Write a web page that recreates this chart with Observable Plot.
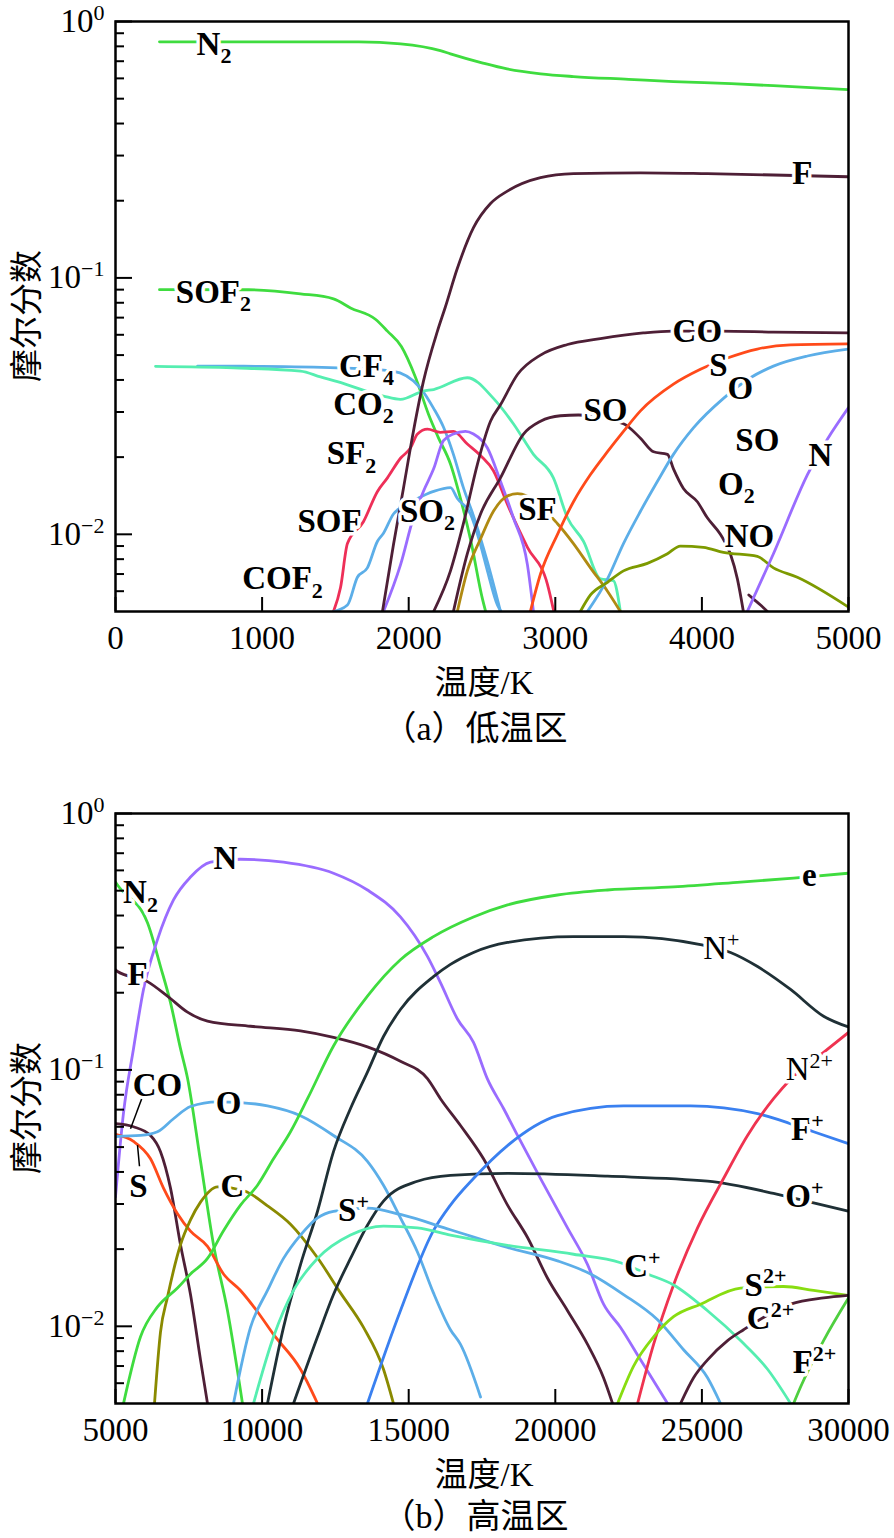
<!DOCTYPE html>
<html><head><meta charset="utf-8">
<script src="https://cdn.jsdelivr.net/npm/d3@7"></script>
<script src="https://cdn.jsdelivr.net/npm/@observablehq/plot@0.6"></script>
<style>
body{margin:0;background:#fff;}
#root{position:relative;width:894px;height:1538px;background:#fff;font-family:"Liberation Serif","DejaVu Serif","Noto Sans CJK SC",serif;color:#000;overflow:hidden;}
.abs{position:absolute;white-space:nowrap;transform:translate(-50%,-50%);line-height:1;}
.ytitle{font-family:"Noto Sans CJK SC",sans-serif;font-size:33px;writing-mode:vertical-rl;text-orientation:sideways;transform:translate(-50%,-50%) rotate(180deg);}
.xtitle{font-size:33px;}
.cap{font-size:34px;}
</style></head><body><div id="root"></div>
<script>
// ---------- Panel (a) 低温区: [温度 K, 摩尔分数] ----------
const a_N2   = [[300,0.833],[1000,0.833],[1660,0.833],[1945,0.818],[2216,0.77],[2285,0.748],[2500,0.69],[2671,0.653],[2900,0.625],[3124,0.61],[3500,0.595],[3806,0.583],[4200,0.572],[4488,0.562],[5000,0.542]];
const a_SOF2 = [[300,0.090],[907,0.0899],[1262,0.0867],[1487,0.0829],[1603,0.0764],[1773,0.069],[1855,0.062],[1950,0.054],[2046,0.041],[2135,0.0294],[2200,0.024],[2285,0.0188],[2353,0.0138],[2421,0.0096],[2503,0.0056],[2525,0.005]];
const a_CF4  = [[560,0.0453],[1000,0.0452],[1514,0.0446],[1889,0.0433],[2080,0.0372],[2170,0.031],[2237,0.0262],[2305,0.0205],[2373,0.0152],[2442,0.0118],[2537,0.0078],[2626,0.005]];
const a_CO2  = [[273,0.0452],[805,0.0446],[1262,0.0433],[1398,0.0411],[1514,0.0394],[1828,0.0346],[1944,0.0336],[2100,0.0362],[2170,0.0367],[2400,0.0408],[2578,0.0339],[2714,0.027],[2851,0.0205],[2987,0.0166],[3083,0.0116],[3192,0.0094],[3308,0.0067],[3396,0.0066],[3444,0.005]];
const a_SF2  = [[1487,0.005],[1535,0.0062],[1582,0.0092],[1691,0.0112],[1787,0.0147],[1855,0.0166],[1944,0.0198],[2012,0.0217],[2060,0.0246],[2128,0.0257],[2216,0.025],[2305,0.0252],[2400,0.0225],[2490,0.0203],[2578,0.0177],[2673,0.0131],[2810,0.0089],[2946,0.0064],[2990,0.005]];
const a_SO2  = [[1487,0.005],[1582,0.0053],[1650,0.0068],[1718,0.0074],[1787,0.0094],[1828,0.0101],[1896,0.012],[1944,0.0127],[2060,0.0138],[2170,0.0147],[2285,0.0152],[2332,0.0138],[2421,0.012],[2490,0.0091],[2537,0.0072],[2605,0.0053],[2630,0.005]];
const a_SOF4 = [[1828,0.005],[1944,0.0076],[2032,0.0116],[2100,0.0147],[2170,0.018],[2237,0.0232],[2305,0.0246],[2387,0.0252],[2442,0.0246],[2537,0.0217],[2626,0.0161],[2714,0.0116],[2810,0.0076],[2851,0.005]];
const a_F    = [[1821,0.005],[1896,0.0091],[1964,0.0151],[2032,0.0252],[2100,0.0394],[2196,0.062],[2250,0.077],[2332,0.109],[2442,0.157],[2558,0.195],[2673,0.218],[2899,0.246],[3124,0.255],[3581,0.257],[4037,0.255],[4488,0.252],[5000,0.248]];
const a_CO   = [[2170,0.005],[2285,0.0072],[2373,0.011],[2469,0.0188],[2558,0.0276],[2626,0.032],[2742,0.042],[2899,0.050],[3083,0.055],[3308,0.058],[3600,0.061],[3800,0.062],[4126,0.062],[4488,0.0615],[5000,0.061]];
const a_SO   = [[2305,0.005],[2400,0.0084],[2490,0.012],[2626,0.0166],[2783,0.0246],[2899,0.0276],[3035,0.029],[3158,0.0292],[3465,0.027],[3581,0.0237],[3670,0.021],[3765,0.0205],[3806,0.018],[3874,0.0151],[3969,0.0134],[4037,0.0116],[4126,0.010],[4194,0.0084],[4242,0.0067],[4283,0.005]];
const a_O2   = [[4320,0.0058],[4351,0.0056],[4400,0.0053],[4447,0.005]];
const a_SF   = [[2332,0.005],[2400,0.0072],[2490,0.0096],[2578,0.0123],[2673,0.0141],[2742,0.0144],[3015,0.011],[3124,0.0092],[3240,0.0074],[3356,0.006],[3444,0.005]];
const a_S    = [[2830,0.005],[2899,0.007],[3015,0.010],[3124,0.0134],[3240,0.0171],[3356,0.021],[3465,0.0252],[3581,0.0303],[3806,0.0385],[3990,0.044],[4174,0.0487],[4378,0.0528],[4604,0.0548],[5000,0.0553]];
const a_O    = [[3219,0.005],[3356,0.0067],[3465,0.0092],[3581,0.0123],[3697,0.0161],[3806,0.0205],[3942,0.026],[4147,0.0339],[4331,0.0408],[4488,0.0453],[4720,0.0496],[5000,0.0528]];
const a_NO   = [[3171,0.005],[3240,0.0058],[3356,0.0065],[3465,0.0072],[3628,0.0077],[3765,0.0084],[3853,0.009],[4010,0.0089],[4147,0.0085],[4378,0.0082],[4488,0.0074],[4651,0.0068],[5000,0.0052]];
const a_N    = [[4310,0.005],[4488,0.0084],[4720,0.0171],[5000,0.0312]];

// ---------- Panel (b) 高温区 ----------
const b_N2  = [[5000,0.54],[5068,0.526],[6091,0.375],[6535,0.253],[6876,0.183],[7217,0.121],[7455,0.093],[7899,0.0441],[8343,0.0208],[8820,0.0115],[9331,0.005]];
const b_N   = [[5000,0.032],[5273,0.068],[5614,0.121],[5955,0.206],[6432,0.322],[6978,0.46],[7558,0.565],[8240,0.646],[9263,0.663],[10730,0.646],[12435,0.585],[13593,0.503],[14718,0.395],[15639,0.277],[16083,0.219],[16662,0.158],[17210,0.128],[17688,0.092],[18235,0.0707],[18712,0.0555],[19497,0.0377],[20416,0.0242],[21100,0.0174],[21646,0.0122],[22226,0.0099],[22908,0.0074],[23829,0.005]];
const b_F   = [[5000,0.246],[5068,0.242],[6091,0.221],[6773,0.194],[7455,0.168],[8138,0.155],[9604,0.148],[11310,0.142],[12435,0.134],[13593,0.123],[14718,0.108],[15639,0.0925],[16083,0.0772],[16767,0.0607],[17552,0.045],[18371,0.0297],[19053,0.0222],[19736,0.0154],[20418,0.0115],[21100,0.0085],[21645,0.0063],[21953,0.005]];
const b_CO  = [[5000,0.0617],[5614,0.060],[6194,0.0555],[6535,0.048],[6876,0.0346],[7217,0.0208],[7558,0.0133],[7899,0.0074],[8138,0.005]];
const b_S   = [[5000,0.056],[5614,0.0526],[6194,0.045],[6637,0.0346],[7114,0.0275],[7558,0.0235],[8138,0.0205],[8684,0.016],[9263,0.0138],[9843,0.0114],[10389,0.0093],[11310,0.0068],[11890,0.005]];
const b_O   = [[5000,0.055],[5853,0.0555],[6432,0.0574],[6978,0.0645],[7558,0.072],[8479,0.0751],[9263,0.0746],[10184,0.0724],[11310,0.0663],[12435,0.0555],[13593,0.044],[14140,0.0355],[14718,0.0265],[15298,0.0195],[15844,0.0135],[16424,0.0097],[16767,0.0085],[17450,0.0053]];
const b_C   = [[6330,0.005],[6535,0.0095],[6773,0.013],[7217,0.0208],[7558,0.026],[7899,0.0305],[8479,0.035],[9400,0.0337],[10184,0.0295],[10969,0.025],[11890,0.0185],[12674,0.0135],[13459,0.0099],[14140,0.0068],[14480,0.005]];
const b_e   = [[5273,0.005],[5853,0.0091],[6432,0.0119],[7114,0.0141],[7558,0.016],[8138,0.0184],[8684,0.0236],[9263,0.0297],[9843,0.0355],[10389,0.045],[10969,0.0574],[11549,0.0772],[12435,0.124],[13593,0.194],[14718,0.269],[15844,0.331],[17210,0.395],[18371,0.44],[20076,0.481],[21782,0.503],[24033,0.517],[26318,0.54],[28126,0.56],[30000,0.585]];
const b_Np  = [[10184,0.005],[10730,0.0099],[11310,0.0174],[11890,0.0281],[12435,0.048],[13015,0.0707],[13593,0.098],[14140,0.135],[14718,0.172],[15844,0.231],[16424,0.258],[17210,0.287],[18371,0.314],[20622,0.331],[22328,0.331],[24954,0.308],[25977,0.287],[26898,0.253],[28024,0.206],[29150,0.162],[30000,0.147]];
const b_Op  = [[11071,0.005],[11890,0.0091],[12435,0.0133],[13015,0.0184],[13593,0.0248],[14140,0.0308],[15298,0.0368],[16424,0.0388],[18371,0.0395],[21782,0.0385],[25193,0.0368],[27444,0.033],[28809,0.0303],[30000,0.0281]];
const b_Fp  = [[13593,0.005],[14718,0.0115],[15844,0.0236],[16424,0.0297],[17210,0.0377],[18371,0.0507],[20076,0.0663],[22328,0.0724],[24614,0.0724],[26898,0.0675],[28809,0.0574],[30000,0.0516]];
const b_N2p = [[22806,0.005],[23352,0.0085],[24033,0.0145],[24852,0.0242],[25738,0.0377],[26557,0.0555],[27444,0.0772],[28024,0.092],[29150,0.117],[30000,0.14]];
const b_Sp  = [[9025,0.005],[9604,0.0099],[10184,0.0138],[10730,0.0184],[11310,0.0227],[11890,0.0265],[12435,0.0281],[13593,0.0289],[14718,0.0273],[16424,0.0238],[18371,0.0203],[20076,0.018],[21203,0.016],[22328,0.0133],[23488,0.0106],[24375,0.0081],[25193,0.0063],[25636,0.005]];
const b_Cp  = [[9707,0.005],[10389,0.0091],[11071,0.0138],[11890,0.0184],[13015,0.0227],[14140,0.0246],[15298,0.0242],[16424,0.0227],[18371,0.0207],[20622,0.0191],[22226,0.0177],[23147,0.016],[24033,0.0145],[25193,0.0115],[26318,0.0088],[27240,0.0068],[28024,0.005]];
const b_S2p = [[22123,0.005],[22670,0.007],[23352,0.0091],[24033,0.0109],[24954,0.0122],[26318,0.0141],[27786,0.0143],[28809,0.0138],[30000,0.0132]];
const b_C2p = [[24272,0.005],[24716,0.0063],[25193,0.0074],[25875,0.0088],[26421,0.0097],[28024,0.0122],[29150,0.0129],[30000,0.0132]];
const b_F2p = [[28126,0.005],[28365,0.0058],[29150,0.0088],[30000,0.0129]];

// ---------- labels: [text, T, value] ----------
const labelsA = [["N_2",672,0.817],["F",4685,0.255],["SOF_2",668,0.0881],["CF_4",1712,0.0453],["CO_2",1691,0.0322],["SF_2",1610,0.0206],["SOF",1460,0.0112],["SO_2",2128,0.0123],["COF_2",1139,0.0067],["CO",3969,0.0618],["S",4112,0.0455],["O",4262,0.0372],["SO",3342,0.0303],["SO",4378,0.0232],["O_2",4235,0.0157],["NO",4324,0.0098],["N",4808,0.0203],["SF",2878,0.0125]];
const labelsB = [["N_2",5853,0.49],["N",8752,0.669],["F",5750,0.235],["CO",6432,0.0868],["S",5784,0.0352],["O",8854,0.0742],["C",8990,0.0352],["S^+",13117,0.0283],["e",28665,0.575],["N^+",25663,0.297],["N^2+",28665,0.10],["F^+",28597,0.0585],["O^+",28495,0.0321],["C^+",22973,0.0171],["S^2+",27170,0.0145],["C^2+",27341,0.0107],["F^2+",28840,0.0072]];
const plainLabels = ["N^+","N^2+"];
// leader lines [T1, v1, T2, v2]
const leadersB = [[5955,0.0806,5512,0.059],[5750,0.0509,5818,0.0421]];

// ---------- ticks ----------
const xTicksA = [0,1000,2000,3000,4000,5000];
const xTicksB = [5000,10000,15000,20000,25000,30000];
const yMajor = [1,0.1,0.01];
const yMinor = [0.9,0.8,0.7,0.6,0.5,0.4,0.3,0.2,0.09,0.08,0.07,0.06,0.05,0.04,0.03,0.02,0.009,0.008,0.007,0.006];

// ---------- colours ----------
const C = {green:"#3fdc3f", lblue:"#5caee8", cyan:"#55eeb0", crimson:"#ee2f58", purple:"#9a6cff", brown:"#4e1f36", slate:"#1f3036", orange:"#ff4a1a", gold:"#b08a12", olive:"#7d9a00", olive2:"#8a8a00", blue:"#3a80f0", red:"#ef3350", ygreen:"#88dd11"};

const seriesA = [
  [a_N2,C.green],[a_SOF2,C.green],[a_CF4,C.lblue],[a_CO2,C.cyan],[a_SF2,C.crimson],[a_SO2,C.lblue],[a_SOF4,C.purple],
  [a_F,C.brown],[a_CO,C.brown],[a_SO,C.brown],[a_O2,C.brown],[a_SF,C.gold],[a_S,C.orange],[a_O,C.lblue],[a_NO,C.olive],[a_N,C.purple]
];
const seriesB = [
  [b_N2,C.green],[b_N,C.purple],[b_F,C.brown],[b_CO,C.brown],[b_S,C.orange],[b_O,C.lblue],[b_C,C.olive2],[b_e,C.green],
  [b_Np,C.slate],[b_Op,C.slate],[b_Fp,C.blue],[b_N2p,C.red],[b_Sp,C.lblue],[b_Cp,C.cyan],[b_S2p,C.ygreen],[b_C2p,C.brown],[b_F2p,"#4fcf3f"]
];

const SERIF = "'Liberation Serif', 'DejaVu Serif', serif";
const NS = "http://www.w3.org/2000/svg";
function richify(svg) {
  svg.querySelectorAll("text").forEach(t => {
    const s = t.textContent;
    const m = /^([^_^]*)([_^])(.+)$/.exec(s);
    if (!m) return;
    while (t.firstChild) t.removeChild(t.firstChild);
    const a = document.createElementNS(NS, "tspan"); a.textContent = m[1]; t.appendChild(a);
    const b = document.createElementNS(NS, "tspan"); b.textContent = m[3];
    b.setAttribute("font-size", "22px");
    b.setAttribute("dy", m[2] === "_" ? "0.38em" : "-0.55em");
    t.appendChild(b);
  });
}

function supFmt(d) {
  const e = Math.round(Math.log10(d));
  return "10^" + (e === 0 ? "0" : "\u2212" + (-e));
}

function panel(series, labels, leaders, xDomain, xTicks) {
  const marks = [];
  for (const [data, color] of series) {
    marks.push(Plot.line(data, {x: d => d[0], y: d => d[1], stroke: color, strokeWidth: 2.8, curve: "monotone-x", clip: true}));
  }
  if (leaders) marks.push(Plot.link(leaders, {x1: d => d[0], y1: d => d[1], x2: d => d[2], y2: d => d[3], stroke: "black", strokeWidth: 1.5}));
  const bold = labels.filter(d => !plainLabels.includes(d[0]));
  const plain = labels.filter(d => plainLabels.includes(d[0]));
  const textOpts = {x: d => d[1], y: d => d[2], text: d => d[0], fontSize: 33, fontFamily: SERIF, fill: "black", stroke: "white", strokeWidth: 7, paintOrder: "stroke", textAnchor: "middle"};
  marks.push(Plot.text(bold, {...textOpts, fontWeight: "bold"}));
  marks.push(Plot.text(plain, {...textOpts, fontWeight: "normal"}));
  marks.push(Plot.axisY(yMinor, {tickSize: -9, strokeWidth: 2, tickFormat: () => "", label: null}));
  marks.push(Plot.axisY(yMajor, {tickSize: -17, strokeWidth: 2, tickPadding: 28, tickFormat: supFmt, fontSize: 33, fontFamily: SERIF, label: null}));
  marks.push(Plot.axisX(xTicks, {tickSize: -14, strokeWidth: 2, tickPadding: 28, tickFormat: d => String(d), fontSize: 33, fontFamily: SERIF, label: null}));
  marks.push(Plot.frame({stroke: "black", strokeWidth: 2.5}));
  const svg = Plot.plot({
    width: 894, height: 660,
    marginLeft: 115, marginRight: 46, marginTop: 21, marginBottom: 49,
    x: {domain: xDomain},
    y: {type: "log", domain: [0.005, 1]},
    style: {fontFamily: SERIF, fontSize: "33px", background: "transparent", overflow: "visible", color: "black"},
    marks
  });
  richify(svg);
  return svg;
}

const root = document.getElementById("root");
const svgA = panel(seriesA, labelsA, null, [0, 5000], xTicksA);
svgA.style.position = "absolute"; svgA.style.left = "0px"; svgA.style.top = "0px";
root.appendChild(svgA);
const svgB = panel(seriesB, labelsB, leadersB, [5000, 30000], xTicksB);
svgB.style.position = "absolute"; svgB.style.left = "0px"; svgB.style.top = "792px";
root.appendChild(svgB);

function addText(cls, txt, x, y) {
  const d = document.createElement("div");
  d.className = "abs " + cls;
  d.textContent = txt;
  d.style.left = x + "px"; d.style.top = y + "px";
  root.appendChild(d);
}
addText("ytitle", "摩尔分数", 24, 316);
addText("ytitle", "摩尔分数", 24, 1108);
addText("xtitle", "温度/K", 484, 683);
addText("xtitle", "温度/K", 484, 1475);
addText("cap", "（a）低温区", 475, 729);
addText("cap", "（b）高温区", 475, 1517);
</script></body></html>
